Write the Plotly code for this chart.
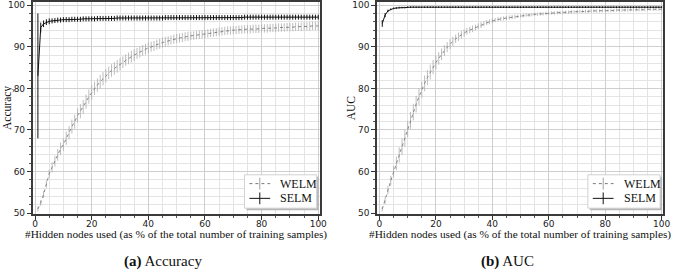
import plotly.graph_objects as go

W, H = 677, 275

x_pct = list(range(1, 101))

welm_acc = [51.0, 52.5, 54.5, 57.0, 59.5, 61.0, 62.5, 64.0, 65.5, 66.5,
            68.0, 69.3, 70.8, 72.0, 73.5, 74.5, 75.5, 76.8, 78.0, 79.0,
            80.0, 80.8, 81.6, 82.3, 83.0, 83.7, 84.3, 84.8, 85.3, 85.8,
            86.3, 86.8, 87.2, 87.6, 88.0, 88.4, 88.7, 89.1, 89.4, 89.7,
            90.0, 90.2, 90.5, 90.7, 91.0, 91.2, 91.4, 91.6, 91.8, 92.0,
            92.1, 92.2, 92.4, 92.5, 92.6, 92.7, 92.8, 92.9, 93.0, 93.1,
            93.2, 93.3, 93.4, 93.5, 93.6, 93.7, 93.8, 93.9, 93.9, 94.0,
            94.0, 94.1, 94.1, 94.2, 94.2, 94.2, 94.3, 94.3, 94.3, 94.4,
            94.4, 94.4, 94.5, 94.5, 94.5, 94.6, 94.6, 94.6, 94.7, 94.7,
            94.7, 94.8, 94.8, 94.8, 94.9, 94.9, 94.9, 95.0, 95.0, 95.0]
welm_acc_err = [0.6, 0.7, 0.8, 0.9, 1.0, 1.2, 1.3, 1.4, 1.5, 1.5,
                1.6, 1.6, 1.7, 1.7, 1.7, 1.7, 1.7, 1.7, 1.7, 1.7,
                1.6, 1.6, 1.6, 1.6, 1.6, 1.5, 1.5, 1.5, 1.5, 1.5,
                1.4, 1.4, 1.4, 1.4, 1.4, 1.3, 1.3, 1.3, 1.3, 1.3,
                1.2, 1.2, 1.2, 1.2, 1.2, 1.2, 1.1, 1.1, 1.1, 1.1,
                1.1, 1.1, 1.1, 1.1, 1.0, 1.0, 1.0, 1.0, 1.0, 1.0,
                1.0, 1.0, 1.0, 1.0, 1.0, 1.0, 1.0, 1.0, 1.0, 1.0,
                1.0, 1.0, 1.0, 1.0, 1.0, 1.0, 1.0, 1.0, 1.0, 1.0,
                1.0, 1.0, 1.0, 1.0, 1.0, 1.0, 1.0, 1.0, 1.0, 1.0,
                1.0, 1.0, 1.0, 1.0, 1.0, 1.0, 1.0, 1.0, 1.0, 1.0]

selm_acc = [83.0, 94.6, 95.5, 95.9, 96.1, 96.2, 96.3, 96.4, 96.4, 96.5,
            96.5, 96.5, 96.6, 96.6, 96.6, 96.6, 96.7, 96.7, 96.7, 96.7,
            96.7, 96.8, 96.8, 96.8, 96.8, 96.8, 96.8, 96.8, 96.9, 96.9,
            96.9, 96.9, 96.9, 96.9, 96.9, 96.9, 96.9, 96.9, 96.9, 96.9,
            96.9, 96.9, 96.9, 96.9, 96.9, 97.0, 97.0, 97.0, 97.0, 97.0,
            97.0, 97.0, 97.0, 97.0, 97.0, 97.0, 97.0, 97.0, 97.0, 97.0,
            97.0, 97.0, 97.0, 97.0, 97.0, 97.0, 97.0, 97.0, 97.0, 97.0,
            97.0, 97.0, 97.0, 97.1, 97.1, 97.1, 97.1, 97.1, 97.1, 97.1,
            97.1, 97.1, 97.1, 97.1, 97.1, 97.1, 97.1, 97.1, 97.1, 97.1,
            97.1, 97.1, 97.1, 97.1, 97.1, 97.1, 97.1, 97.1, 97.1, 97.1]
selm_acc_err = [15.0, 1.2, 0.8, 0.7, 0.7, 0.6, 0.6, 0.6, 0.6, 0.6,
                0.6, 0.6, 0.6, 0.6, 0.6, 0.6, 0.6, 0.6, 0.6, 0.6,
                0.6, 0.6, 0.6, 0.6, 0.6, 0.6, 0.6, 0.6, 0.6, 0.6,
                0.6, 0.6, 0.6, 0.6, 0.6, 0.6, 0.6, 0.6, 0.6, 0.6,
                0.6, 0.6, 0.6, 0.6, 0.6, 0.6, 0.6, 0.6, 0.6, 0.6,
                0.6, 0.6, 0.6, 0.6, 0.6, 0.6, 0.6, 0.6, 0.6, 0.6,
                0.6, 0.6, 0.6, 0.6, 0.6, 0.6, 0.6, 0.6, 0.6, 0.6,
                0.6, 0.6, 0.6, 0.6, 0.6, 0.6, 0.6, 0.6, 0.6, 0.6,
                0.6, 0.6, 0.6, 0.6, 0.6, 0.6, 0.6, 0.6, 0.6, 0.6,
                0.6, 0.6, 0.6, 0.6, 0.6, 0.6, 0.6, 0.6, 0.6, 0.6]

welm_auc = [51.0, 53.0, 55.5, 57.8, 60.0, 62.0, 64.0, 66.0, 68.0, 70.2,
            72.3, 74.3, 76.2, 78.0, 79.7, 81.2, 82.6, 83.9, 85.1, 86.2,
            87.2, 88.2, 89.1, 89.9, 90.6, 91.3, 91.9, 92.4, 92.9, 93.3,
            93.7, 94.0, 94.3, 94.6, 94.9, 95.2, 95.5, 95.8, 96.0, 96.2,
            96.4, 96.6, 96.7, 96.8, 96.9, 97.0, 97.1, 97.2, 97.3, 97.4,
            97.5, 97.6, 97.6, 97.7, 97.8, 97.8, 97.9, 97.9, 98.0, 98.0,
            98.1, 98.1, 98.2, 98.2, 98.2, 98.3, 98.3, 98.4, 98.4, 98.4,
            98.5, 98.5, 98.5, 98.5, 98.6, 98.6, 98.6, 98.6, 98.7, 98.7,
            98.7, 98.7, 98.7, 98.8, 98.8, 98.8, 98.8, 98.8, 98.9, 98.9,
            98.9, 98.9, 98.9, 98.9, 99.0, 99.0, 99.0, 99.0, 99.0, 99.0]
welm_auc_err = [0.6, 0.8, 1.0, 1.2, 1.4, 1.6, 1.8, 2.0, 2.0, 2.0,
                2.0, 2.0, 2.0, 2.0, 1.9, 1.9, 1.8, 1.8, 1.7, 1.6,
                1.5, 1.4, 1.3, 1.2, 1.2, 1.1, 1.0, 1.0, 0.9, 0.9,
                0.8, 0.8, 0.8, 0.7, 0.7, 0.7, 0.6, 0.6, 0.6, 0.6,
                0.5, 0.5, 0.5, 0.5, 0.5, 0.5, 0.5, 0.5, 0.4, 0.4,
                0.4, 0.4, 0.4, 0.4, 0.4, 0.4, 0.4, 0.4, 0.4, 0.4,
                0.4, 0.4, 0.4, 0.4, 0.4, 0.4, 0.4, 0.4, 0.4, 0.4,
                0.4, 0.4, 0.4, 0.4, 0.4, 0.4, 0.4, 0.4, 0.4, 0.4,
                0.4, 0.4, 0.4, 0.4, 0.4, 0.4, 0.4, 0.4, 0.4, 0.4,
                0.4, 0.4, 0.4, 0.4, 0.4, 0.4, 0.4, 0.4, 0.4, 0.4]

selm_auc = [95.6, 97.6, 98.6, 99.0, 99.2, 99.3, 99.4, 99.4, 99.4, 99.5,
            99.5, 99.5, 99.5, 99.5, 99.5, 99.5, 99.5, 99.5, 99.5, 99.5,
            99.5, 99.5, 99.5, 99.5, 99.5, 99.5, 99.5, 99.5, 99.5, 99.5,
            99.5, 99.5, 99.5, 99.5, 99.5, 99.5, 99.5, 99.5, 99.5, 99.5,
            99.5, 99.5, 99.5, 99.5, 99.5, 99.5, 99.5, 99.5, 99.5, 99.5,
            99.5, 99.5, 99.5, 99.5, 99.5, 99.5, 99.5, 99.5, 99.5, 99.5,
            99.5, 99.5, 99.5, 99.5, 99.5, 99.5, 99.5, 99.5, 99.5, 99.5,
            99.5, 99.5, 99.5, 99.5, 99.5, 99.5, 99.5, 99.5, 99.5, 99.5,
            99.5, 99.5, 99.5, 99.5, 99.5, 99.5, 99.5, 99.5, 99.5, 99.5,
            99.5, 99.5, 99.5, 99.5, 99.5, 99.5, 99.5, 99.5, 99.5, 99.5]
selm_auc_err = [0.8, 0.5, 0.3, 0.2, 0.2, 0.2, 0.2, 0.2, 0.2, 0.2,
                0.2, 0.2, 0.2, 0.2, 0.2, 0.2, 0.2, 0.2, 0.2, 0.2,
                0.2, 0.2, 0.2, 0.2, 0.2, 0.2, 0.2, 0.2, 0.2, 0.2,
                0.2, 0.2, 0.2, 0.2, 0.2, 0.2, 0.2, 0.2, 0.2, 0.2,
                0.2, 0.2, 0.2, 0.2, 0.2, 0.2, 0.2, 0.2, 0.2, 0.2,
                0.2, 0.2, 0.2, 0.2, 0.2, 0.2, 0.2, 0.2, 0.2, 0.2,
                0.2, 0.2, 0.2, 0.2, 0.2, 0.2, 0.2, 0.2, 0.2, 0.2,
                0.2, 0.2, 0.2, 0.2, 0.2, 0.2, 0.2, 0.2, 0.2, 0.2,
                0.2, 0.2, 0.2, 0.2, 0.2, 0.2, 0.2, 0.2, 0.2, 0.2,
                0.2, 0.2, 0.2, 0.2, 0.2, 0.2, 0.2, 0.2, 0.2, 0.2]

x_ticks = [0, 20, 40, 60, 80, 100]
y_ticks = [50, 60, 70, 80, 90, 100]
x_title = "#Hidden nodes used (as % of the total number of training samples)"
y_titles = ["Accuracy", "AUC"]
captions = ["<b>(a)</b> Accuracy", "<b>(b)</b> AUC"]
series_names = ["WELM", "SELM"]

SERIF = "Liberation Serif, Times New Roman, serif"
SANS = "DejaVu Sans, sans-serif"

fig = go.Figure()

panels = [
    (welm_acc, welm_acc_err, selm_acc, selm_acc_err, "x", "y"),
    (welm_auc, welm_auc_err, selm_auc, selm_auc_err, "x2", "y2"),
]
for wv, we, sv, se, xa, ya in panels:
    fig.add_trace(go.Scatter(
        x=x_pct, y=wv, mode="lines", xaxis=xa, yaxis=ya, showlegend=False,
        line=dict(color="#7a7a7a", width=0.9, dash="dot"),
        error_y=dict(type="data", array=we, visible=True, width=0,
                     thickness=0.8, color="#ababab"),
    ))
    fig.add_trace(go.Scatter(
        x=x_pct, y=sv, mode="lines", xaxis=xa, yaxis=ya, showlegend=False,
        line=dict(color="#111111", width=1),
        error_y=dict(type="data", array=se, visible=True, width=0,
                     thickness=1, color="#111111"),
    ))

# pixel geometry of the two axes frames
frames = [(33, 323), (381, 670)]
top_px, bot_px = 1, 217

def px(x):
    return x / W

def py(y):
    return 1 - y / H

axis_common = dict(
    showline=True, linecolor="#3a3a3a", linewidth=1.5, mirror=True,
    ticks="outside", ticklen=4, tickwidth=1, tickcolor="#333",
    showgrid=True, gridcolor="#cfcfcf", gridwidth=1,
    tickfont=dict(family=SANS, size=9, color="#222"),
    zeroline=False,
)

for i, (l, r) in enumerate(frames):
    sfx = "" if i == 0 else str(i + 1)
    fig.layout["xaxis" + sfx] = dict(
        axis_common, domain=[px(l), px(r)], range=[-0.85, 100.5],
        tickvals=x_ticks, anchor="y" + sfx, ticklabelstandoff=-4,
        minor=dict(dtick=5, tick0=0, showgrid=True, gridcolor="#e4e4e4",
                   ticks="outside", ticklen=2, tickcolor="#555"),
    )
    fig.layout["yaxis" + sfx] = dict(
        axis_common, domain=[py(bot_px), py(top_px)], range=[49.8, 100.75],
        tickvals=y_ticks, anchor="x" + sfx,
        minor=dict(dtick=2, tick0=50, showgrid=True, gridcolor="#e4e4e4",
                   ticks="outside", ticklen=2, tickcolor="#555"),
    )

annotations = []
shapes = []
for i, (l, r) in enumerate(frames):
    cx = (l + r) / 2
    annotations.append(dict(
        x=px(cx), y=py(238), xref="paper", yref="paper", text=x_title,
        showarrow=False, xanchor="center", yanchor="middle",
        font=dict(family=SERIF, size=11.3, color="#111")))
    annotations.append(dict(
        x=px(l - 26), y=py((top_px + bot_px) / 2), xref="paper", yref="paper",
        text=y_titles[i], textangle=-90, showarrow=False,
        xanchor="center", yanchor="middle",
        font=dict(family=SERIF, size=11.5, color="#111")))
    annotations.append(dict(
        x=px(cx - 13), y=py(265), xref="paper", yref="paper", text=captions[i],
        showarrow=False, xanchor="center", yanchor="middle",
        font=dict(family=SERIF, size=15, color="#111")))

    # legend box (with shadow)
    bl, bt, br, bb = r - 76, 177, r - 3, 211
    shapes.append(dict(type="rect", xref="paper", yref="paper",
                       x0=px(bl + 2), x1=px(br + 2), y0=py(bb + 2), y1=py(bt + 2),
                       fillcolor="#b5b5b5", line=dict(width=0), layer="above"))
    shapes.append(dict(type="rect", xref="paper", yref="paper",
                       x0=px(bl), x1=px(br), y0=py(bb), y1=py(bt),
                       fillcolor="white", line=dict(color="#d0d0d0", width=1),
                       layer="above"))
    rows = [(186, "#7a7a7a", "dot", "#a0a0a0"), (201, "#111111", "solid", "#111111")]
    for (ry, lc, dash, bc), name in zip(rows, series_names):
        lx0, lx1 = bl + 5, bl + 26
        shapes.append(dict(type="line", xref="paper", yref="paper",
                           x0=px(lx0), x1=px(lx1), y0=py(ry), y1=py(ry),
                           line=dict(color=lc, width=1, dash=dash), layer="above"))
        mx = (lx0 + lx1) / 2
        shapes.append(dict(type="line", xref="paper", yref="paper",
                           x0=px(mx), x1=px(mx), y0=py(ry - 6), y1=py(ry + 6),
                           line=dict(color=bc, width=1), layer="above"))
        annotations.append(dict(
            x=px(bl + 34), y=py(ry), xref="paper", yref="paper", text=name,
            showarrow=False, xanchor="left", yanchor="middle",
            font=dict(family=SERIF, size=12, color="#111")))

fig.update_layout(
    width=W, height=H, margin=dict(l=0, r=0, t=0, b=0),
    paper_bgcolor="white", plot_bgcolor="white",
    annotations=annotations, shapes=shapes, showlegend=False,
)

fig.write_html("out.html", config={"displayModeBar": False},
               post_script="document.body.style.margin='0';"
                           "document.body.style.overflow='hidden';")
